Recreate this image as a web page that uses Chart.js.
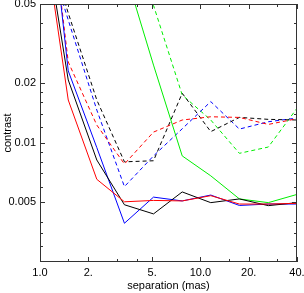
<!DOCTYPE html>
<html>
<head>
<meta charset="utf-8">
<script src="https://cdn.jsdelivr.net/npm/chart.js@4/dist/chart.umd.min.js"></script>
<style>
  html, body { margin: 0; padding: 0; background: #fff; }
  #wrap { width: 304px; height: 293px; }
</style>
</head>
<body>
<div id="wrap"><canvas id="chart"></canvas></div>
<script>
// separation (mas) sample points
const separation = [1.0, 1.5, 2.26, 3.36, 5.1, 7.7, 11.6, 17.5, 26.5, 40];

// contrast curves (solid)
const redSolid   = [0.156, 0.0164, 0.00653, 0.00503, 0.00511, 0.00508, 0.0054, 0.0049, 0.0049, 0.00494];
const blackSolid = [0.16, 0.0207, 0.00817, 0.00486, 0.00437, 0.00564, 0.00498, 0.0052, 0.00481, 0.00498];
const blueSolid  = [0.46, 0.023, 0.00944, 0.00392, 0.00531, 0.00508, 0.00544, 0.00482, 0.0049, 0.0049];
const greenSolid = [1.5, 0.6, 0.21, 0.075, 0.0246, 0.00857, 0.0068, 0.0052, 0.00498, 0.00548];

// contrast curves (dashed)
const redDashed   = [0.4, 0.0255, 0.01226, 0.0078, 0.0113, 0.013, 0.0135, 0.0134, 0.01235, 0.0132];
const blackDashed = [0.13, 0.045, 0.0164, 0.008, 0.0081, 0.01774, 0.01136, 0.0134, 0.0131, 0.013];
const blueDashed  = [0.12, 0.0415, 0.0146, 0.006, 0.00857, 0.01174, 0.0161, 0.0117, 0.01274, 0.0133];
const greenDashed = [3, 1.2, 0.45, 0.15, 0.0492, 0.0174, 0.013, 0.00883, 0.0095, 0.0149];

// axis ticks
const xTicks = [1, 2, 5, 10, 20, 40];
const xTickLabels = ['1.0', '2.', '5.', '10.0', '20.', '40.'];
const xMinor = [1.5, 3, 4, 15, 30];
const yTicks = [0.005, 0.01, 0.02, 0.05];
const yTickLabels = ['0.005', '0.01', '0.02', '0.05'];
const yMinor = [0.04, 0.03, 0.025, 0.018, 0.016, 0.014, 0.012, 0.009, 0.008, 0.007, 0.006, 0.004, 0.0035, 0.003];

const FONT = { family: "'Liberation Sans', Arial, sans-serif", size: 11 };

function series(values, color, dashed) {
    return {
        data: separation.map((s, i) => ({ x: s, y: values[i] })),
        borderColor: color,
        borderWidth: 1,
        borderDash: dashed ? [4, 3] : [],
        pointRadius: 0,
        tension: 0,
        fill: false
    };
}

// inward ticks on all four sides plus the frame, like the IDL plot
const frameTicks = {
    id: 'frameTicks',
    afterDatasetsDraw(chart) {
        const ctx = chart.ctx;
        const a = chart.chartArea;
        const xs = chart.scales.x, ys = chart.scales.y;
        ctx.save();
        ctx.strokeStyle = '#333';
        ctx.lineWidth = 1;
        ctx.beginPath();
        function xt(v, len) {
            const px = Math.round(xs.getPixelForValue(v)) + 0.5;
            ctx.moveTo(px, a.bottom); ctx.lineTo(px, a.bottom - len);
            ctx.moveTo(px, a.top); ctx.lineTo(px, a.top + len);
        }
        function yt(v, len) {
            const py = Math.round(ys.getPixelForValue(v)) + 0.5;
            ctx.moveTo(a.left, py); ctx.lineTo(a.left + len, py);
            ctx.moveTo(a.right, py); ctx.lineTo(a.right - len, py);
        }
        xTicks.forEach(v => xt(v, 5));
        xMinor.forEach(v => xt(v, 3));
        yTicks.forEach(v => yt(v, 5));
        yMinor.forEach(v => yt(v, 3));
        ctx.stroke();
        ctx.strokeRect(Math.round(a.left) + 0.5, Math.round(a.top) + 0.5,
            Math.round(a.right - a.left) - 1, Math.round(a.bottom - a.top) - 1);
        ctx.restore();
    }
};

window.onload = function () {
    const ctx = document.getElementById('chart').getContext('2d');
    new Chart(ctx, {
        type: 'line',
        data: {
            datasets: [
                series(redSolid, '#ff0000', false),
                series(blackSolid, '#000000', false),
                series(blueSolid, '#0000ff', false),
                series(greenSolid, '#00ee00', false),
                series(redDashed, '#ff0000', true),
                series(blackDashed, '#000000', true),
                series(blueDashed, '#0000ff', true),
                series(greenDashed, '#00ee00', true)
            ]
        },
        options: {
            responsive: true,
            maintainAspectRatio: false,
            animation: false,
            layout: { padding: { top: 4, right: 0, left: 0, bottom: 0 } },
            plugins: { legend: { display: false }, tooltip: { enabled: false } },
            scales: {
                x: {
                    type: 'logarithmic',
                    min: 1,
                    max: 40,
                    grid: { display: false, drawTicks: false },
                    border: { display: false },
                    afterBuildTicks: s => { s.ticks = xTicks.map(v => ({ value: v })); },
                    afterFit: s => { s.height = 31; s.paddingLeft = 0; s.paddingRight = 7; },
                    ticks: {
                        autoSkip: false,
                        maxRotation: 0,
                        padding: 4,
                        color: '#000',
                        font: FONT,
                        callback: (v, i) => xTickLabels[i]
                    },
                    title: {
                        display: true,
                        text: 'separation (mas)',
                        color: '#000',
                        font: FONT,
                        padding: { top: 0, bottom: 0 }
                    }
                },
                y: {
                    type: 'logarithmic',
                    min: 0.0025,
                    max: 0.05,
                    grid: { display: false, drawTicks: false },
                    border: { display: false },
                    afterBuildTicks: s => { s.ticks = yTicks.map(v => ({ value: v })); },
                    afterFit: s => { s.width = 40; s.paddingTop = 0; s.paddingBottom = 0; },
                    ticks: {
                        autoSkip: false,
                        padding: 4,
                        color: '#000',
                        font: FONT,
                        callback: (v, i) => yTickLabels[i]
                    },
                    title: {
                        display: true,
                        text: 'contrast',
                        color: '#000',
                        font: FONT,
                        padding: { top: 1, bottom: 0 }
                    }
                }
            }
        },
        plugins: [frameTicks]
    });
};
</script>
</body>
</html>
